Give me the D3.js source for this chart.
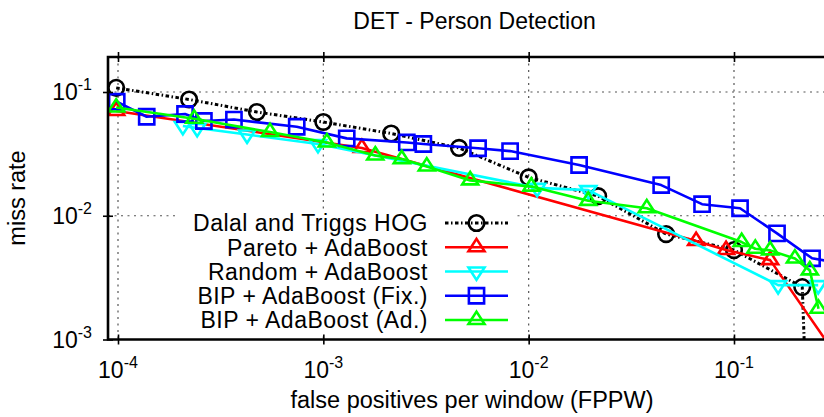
<!DOCTYPE html>
<html>
<head>
<meta charset="utf-8">
<script src="https://cdn.jsdelivr.net/npm/d3@7"></script>
<style>
  body { margin: 0; background: #fff; }
  svg { display: block; }
  text { font-family: "Liberation Sans", Arial, Helvetica, sans-serif; fill: #000; }
</style>
</head>
<body>
<svg id="chart" width="824" height="417"></svg>
<script>
// ---- chart text and ticks ----
const chartTitle = "DET - Person Detection";
const xLabel = "false positives per window (FPPW)";
const yLabel = "miss rate";
const xTicks = [1e-4, 1e-3, 1e-2, 1e-1];
const xTickExp = ["-4", "-3", "-2", "-1"];
const yTicks = [1e-3, 1e-2, 1e-1];
const yTickExp = ["-3", "-2", "-1"];

// ---- series ----
const seriesNames = [
  "Dalal and Triggs HOG",
  "Pareto + AdaBoost",
  "Random + AdaBoost",
  "BIP + AdaBoost (Fix.)",
  "BIP + AdaBoost (Ad.)"
];
const seriesColors = ["#000000", "#ff0000", "#00ffff", "#0000ff", "#00ff00"];
const seriesMarkers = ["circle", "triUp", "triDown", "square", "triUp"];

const hogFppw = [9.8e-5, 2.22e-4, 4.75e-4, 1.0e-3, 2.14e-3, 4.58e-3, 1.0e-2, 2.18e-2, 4.67e-2, 0.100, 0.215, 0.222];
const hogMiss = [0.108, 0.087, 0.0689, 0.0572, 0.0462, 0.0353, 0.0204, 0.0144, 0.00711, 0.00528, 0.00265, 0.0006];

const paretoFppw = [9.8e-5, 1.54e-3, 0.0654, 0.0915, 0.150, 0.329];
const paretoMiss = [0.0702, 0.0353, 0.00625, 0.00528, 0.00438, 0.00067];

const randomFppw = [2.07e-4, 2.43e-4, 4.25e-4, 9.42e-4, 0.0110, 0.0195, 0.164, 0.257];
const randomMiss = [0.0531, 0.0512, 0.0453, 0.0380, 0.0168, 0.0161, 0.00275, 0.00275];

const bipFixFppw = [9.86e-5, 1.38e-4, 2.12e-4, 2.62e-4, 3.67e-4, 7.42e-4, 1.30e-3, 2.55e-3, 3.07e-3, 5.67e-3, 8.12e-3, 0.0176, 0.0442, 0.0699, 0.107, 0.162, 0.240, 0.368];
const bipFixMiss = [0.0835, 0.0631, 0.0664, 0.0583, 0.0599, 0.0524, 0.0422, 0.0391, 0.0380, 0.0351, 0.0333, 0.0257, 0.0177, 0.0124, 0.0115, 0.00721, 0.00453, 0.0040];

const bipAdFppw = [9.8e-5, 2.35e-4, 5.50e-4, 1.04e-3, 1.79e-3, 2.41e-3, 3.19e-3, 5.19e-3, 0.0103, 0.0195, 0.0376, 0.109, 0.127, 0.150, 0.198, 0.234, 0.258];
const bipAdMiss = [0.0749, 0.0608, 0.0475, 0.0391, 0.0307, 0.0287, 0.0250, 0.0193, 0.0172, 0.0132, 0.0115, 0.00613, 0.00541, 0.00525, 0.00451, 0.00362, 0.00177];

const seriesData = [
  d3.zip(hogFppw, hogMiss),
  d3.zip(paretoFppw, paretoMiss),
  d3.zip(randomFppw, randomMiss),
  d3.zip(bipFixFppw, bipFixMiss),
  d3.zip(bipAdFppw, bipAdMiss)
];

// ---- layout ----
const svg = d3.select("#chart");
const frame = { left: 108, top: 57, right: 841, bottom: 339.5 };

const x = d3.scaleLog().domain([1e-4, 1e-1]).range([118, 734]);
const y = d3.scaleLog().domain([1e-3, 1e-1]).range([339.5, 92]);

const LW = 2.6;

// clip region for curves
svg.append("defs").append("clipPath").attr("id", "plotClip")
  .append("rect")
  .attr("x", frame.left).attr("y", frame.top)
  .attr("width", frame.right - frame.left).attr("height", frame.bottom - frame.top);

// ---- grid ----
const grid = svg.append("g").attr("stroke", "#555").attr("stroke-width", 1.2)
  .attr("stroke-dasharray", "2,4.5");
grid.selectAll("line.gx").data(xTicks).join("line")
  .attr("x1", d => x(d)).attr("x2", d => x(d))
  .attr("y1", frame.top).attr("y2", frame.bottom);
grid.selectAll("line.gy").data(yTicks.filter(d => y(d) < frame.bottom - 1)).join("line")
  .attr("x1", frame.left).attr("x2", frame.right)
  .attr("y1", d => y(d)).attr("y2", d => y(d));

// ---- marker shapes ----
function markerPath(kind) {
  switch (kind) {
    case "triUp": return "M0,-8.4L8,4L-8,4Z";
    case "triDown": return "M0,8.4L8,-4L-8,-4Z";
    case "square": return "M-7.6,-7.6H7.6V7.6H-7.6Z";
    default: return "M7.8,0A7.8,7.8 0 1,1 -7.8,0A7.8,7.8 0 1,1 7.8,0Z";
  }
}
function lineDash(i) { return i === 0 ? "3.5,2.5,1.5,2.5" : null; }

// ---- curves ----
const line = d3.line().x(d => x(d[0])).y(d => y(d[1]));
const plot = svg.append("g").attr("clip-path", "url(#plotClip)");

seriesData.forEach((data, i) => {
  const g = plot.append("g");
  g.append("path")
    .attr("d", line(data))
    .attr("fill", "none")
    .attr("stroke", seriesColors[i])
    .attr("stroke-width", i === 0 ? 3 : LW)
    .attr("stroke-dasharray", lineDash(i))
    .attr("stroke-linejoin", "round");
  g.selectAll("path.m").data(data).join("path")
    .attr("class", "m")
    .attr("transform", d => `translate(${x(d[0])},${y(d[1])})`)
    .attr("d", markerPath(seriesMarkers[i]))
    .attr("fill", "none")
    .attr("stroke", seriesColors[i])
    .attr("stroke-width", LW);
});

// ---- legend (opaque box) ----
const legend = svg.append("g");
legend.append("rect").attr("x", 176).attr("y", 210).attr("width", 340).attr("height", 123).attr("fill", "#fff");
const rowY = i => 223 + i * 24.25;
seriesNames.forEach((name, i) => {
  legend.append("text")
    .attr("x", 428).attr("y", rowY(i) + 8.3)
    .attr("text-anchor", "end").attr("font-size", 23)
    .attr("letter-spacing", 0.5)
    .text(name);
  legend.append("line")
    .attr("x1", 445).attr("x2", 508).attr("y1", rowY(i)).attr("y2", rowY(i))
    .attr("stroke", seriesColors[i])
    .attr("stroke-width", i === 0 ? 3 : LW)
    .attr("stroke-dasharray", lineDash(i));
  legend.append("path")
    .attr("transform", `translate(476.5,${rowY(i)})`)
    .attr("d", markerPath(seriesMarkers[i]))
    .attr("fill", "none").attr("stroke", seriesColors[i]).attr("stroke-width", LW);
});

// ---- border ----
svg.append("path")
  .attr("d", `M${frame.right},${frame.top}H${frame.left}V${frame.bottom}H${frame.right}`)
  .attr("fill", "none").attr("stroke", "#000").attr("stroke-width", 2.6);

// ---- axes (ticks straddle the border) ----
function styleTicks(sel, horizontal) {
  sel.select(".domain").remove();
  sel.selectAll(".tick line")
    .attr("stroke", "#000").attr("stroke-width", 1.6)
    .attr(horizontal ? "y1" : "x1", -5).attr(horizontal ? "y2" : "x2", 5);
  sel.selectAll(".tick text").remove();
}
const axB = svg.append("g").attr("transform", `translate(0,${frame.bottom})`)
  .call(d3.axisBottom(x).tickValues(xTicks).tickSize(5).tickSizeOuter(0));
styleTicks(axB, true);
const axT = svg.append("g").attr("transform", `translate(0,${frame.top})`)
  .call(d3.axisTop(x).tickValues(xTicks).tickSize(5).tickSizeOuter(0));
styleTicks(axT, true);
const axL = svg.append("g").attr("transform", `translate(${frame.left},0)`)
  .call(d3.axisLeft(y).tickValues(yTicks).tickSize(5).tickSizeOuter(0));
styleTicks(axL, false);

// tick labels as 10 with a superscript exponent
function powerLabel(g, xPos, yPos, exp, anchor) {
  const t = g.append("text")
    .attr("x", xPos).attr("y", yPos)
    .attr("text-anchor", anchor).attr("font-size", 23);
  t.append("tspan").text("10");
  t.append("tspan").attr("dy", -10).attr("font-size", 16).text(exp);
}
xTicks.forEach((v, i) => powerLabel(svg, x(v), 378, xTickExp[i], "middle"));
yTicks.forEach((v, i) => powerLabel(svg, 92, y(v) + 8, yTickExp[i], "end"));

// ---- titles ----
svg.append("text").attr("x", 474.5).attr("y", 29)
  .attr("text-anchor", "middle").attr("font-size", 23).text(chartTitle);
svg.append("text").attr("x", 472).attr("y", 408)
  .attr("text-anchor", "middle").attr("font-size", 23.5).text(xLabel);
svg.append("text")
  .attr("transform", `translate(25,198) rotate(-90)`)
  .attr("text-anchor", "middle").attr("font-size", 23.5).text(yLabel);
</script>
</body>
</html>
